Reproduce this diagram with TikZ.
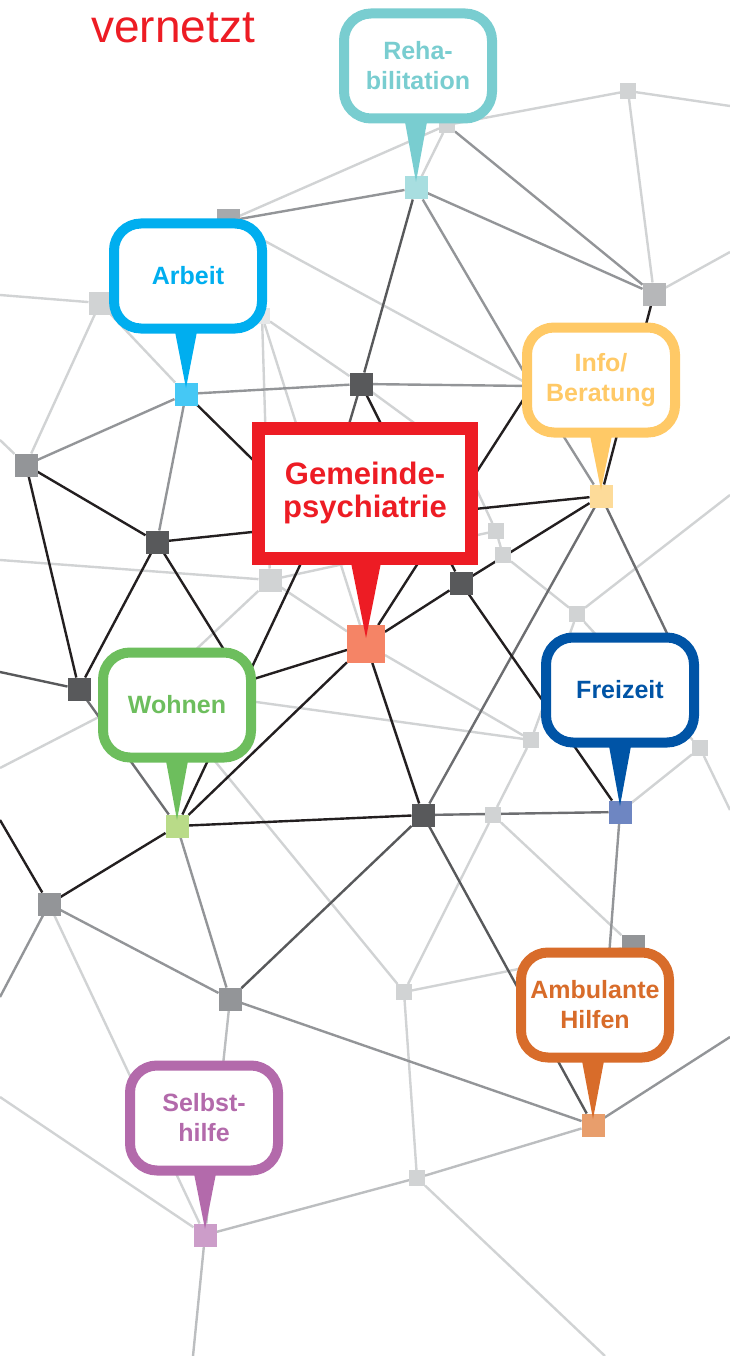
\documentclass[tikz,border=0pt]{standalone}
\usepackage{fontspec}
\setmainfont{Liberation Sans}
\usetikzlibrary{positioning,backgrounds}

% line colours
\definecolor{lnblack}{HTML}{231F20}
\definecolor{lndark}{HTML}{58595B}
\definecolor{lndm}{HTML}{6D6E71}
\definecolor{lnmid}{HTML}{939598}
\definecolor{lnsoft}{HTML}{BCBEC0}
\definecolor{lnlight}{HTML}{D1D3D4}
% square colours
\definecolor{sqdark}{HTML}{58595B}
\definecolor{sqgrey}{HTML}{939598}
\definecolor{sqmid}{HTML}{A7A9AC}
\definecolor{sqsilver}{HTML}{B6B7B9}
\definecolor{sqlight}{HTML}{D1D3D4}
\definecolor{sqpale}{HTML}{E6E7E8}
% bubble colours
\definecolor{vred}{HTML}{ED1C24}
\definecolor{rehacol}{HTML}{79CDD0}
\definecolor{rehasq}{HTML}{A8DEE0}
\definecolor{arbcol}{HTML}{00AEEF}
\definecolor{arbsq}{HTML}{45C8F5}
\definecolor{infocol}{HTML}{FFC966}
\definecolor{infosq}{HTML}{FDDB99}
\definecolor{gemsq}{HTML}{F58466}
\definecolor{wohcol}{HTML}{6DBE5D}
\definecolor{wohsq}{HTML}{B9DB88}
\definecolor{freicol}{HTML}{0054A6}
\definecolor{freisq}{HTML}{6E86C2}
\definecolor{ambcol}{HTML}{D86C2A}
\definecolor{ambsq}{HTML}{E89E6C}
\definecolor{selcol}{HTML}{B36AAB}
\definecolor{selsq}{HTML}{CC9DC9}

% pointer from a bubble down to its square
\newcommand\pointto[4]{%
  \coordinate (#1b) at (#2 |- #1.south);
  \fill[#3] ([xshift=-#4,yshift=7pt]#1b) -- ([xshift=#4,yshift=7pt]#1b) -- ([yshift=6pt]#2.center) -- cycle;}

\begin{document}
\begin{tikzpicture}[x=1pt, y=-1pt,
  sq/.style={fill=#1, minimum size=23pt, inner sep=0pt, outer sep=0pt},
  lsq/.style={fill=#1, minimum size=16pt, inner sep=0pt, outer sep=0pt},
  ebk/.style={line width=2.4pt, draw=lnblack},
  edk/.style={line width=2.4pt, draw=lndark},
  edm/.style={line width=2.4pt, draw=lndm},
  emd/.style={line width=2.4pt, draw=lnmid},
  els/.style={line width=2.4pt, draw=lnsoft},
  elt/.style={line width=2.4pt, draw=lnlight},
  bubble/.style={draw=#1, text=#1, fill=white, line width=10pt, rounded corners=27pt,
    minimum width=148pt, minimum height=105pt, inner sep=1pt, align=center,
    font=\bfseries\fontsize{25}{30}\selectfont}]
\useasboundingbox (0,0) rectangle (730,1356);

%title
\node[text=vred, font=\fontsize{46}{50}\selectfont, anchor=base west, inner sep=0pt] (title) at (91,43) {vernetzt};

%squares of the network
\node[sq=rehasq] (reh) at (416,188) {};
\node[lsq=sqlight] (n1) at (447,125) {};
\node[lsq=sqlight] (n2) at (628,91) {};
\node[sq=sqsilver] (n3) at (654,294) {};
\node[sq=sqmid] (n4) at (228,221) {};
\node[sq=sqlight] (n5) at (100,303) {};
\node[sq=arbsq] (arb) at (186,394) {};
\node[sq=sqdark] (n6) at (361,384) {};
\node[lsq=sqpale] (h1) at (262,316) {};
\node[sq=sqgrey] (n7) at (26,465) {};
\node[sq=sqdark] (n8) at (157,542) {};
\node[sq=sqlight] (n9) at (270,580) {};
\node[lsq=sqlight] (n10) at (496,531) {};
\node[lsq=sqlight] (n11) at (503,555) {};
\node[sq=sqdark] (n12) at (461,583) {};
\node[lsq=sqlight] (n13) at (577,614) {};
\node[sq=infosq] (info) at (601,496) {};
\node[sq=gemsq, minimum size=38pt] (gem) at (366,644) {};
\node[sq=sqdark] (n14) at (79,689) {};
\node[lsq=sqlight] (n15) at (531,740) {};
\node[lsq=sqlight] (n16) at (700,748) {};
\node[sq=freisq] (frei) at (620,812) {};
\node[sq=sqdark] (n17) at (423,815) {};
\node[lsq=sqlight] (n18) at (493,815) {};
\node[sq=wohsq] (woh) at (177,826) {};
\node[sq=sqgrey] (n19) at (49,904) {};
\node[sq=sqgrey] (n20) at (633,946) {};
\node[lsq=sqlight] (n21) at (404,992) {};
\node[sq=sqgrey] (n22) at (230,999) {};
\node[sq=ambsq] (amb) at (593,1125) {};
\node[lsq=sqlight] (n23) at (417,1178) {};
\node[sq=selsq] (sel) at (205,1235) {};

%hidden crossings under the bubbles
\coordinate (hx) at (532,386);
\coordinate (hb) at (319,525);
\coordinate (hg) at (462,458);
\coordinate (hy) at (244,682);
\coordinate (hw) at (155,688);
\coordinate (hf) at (676,652);
\coordinate (ha) at (603,1035);

%loose ends at the page border
\coordinate (o1) at (730,106);
\coordinate (o2) at (730,252);
\coordinate (o3) at (0,295);
\coordinate (o4) at (0,440);
\coordinate (o5) at (0,560);
\coordinate (o6) at (0,672);
\coordinate (o7) at (0,768);
\coordinate (o8) at (0,820);
\coordinate (o9) at (0,997);
\coordinate (o10) at (730,495);
\coordinate (o11) at (730,810);
\coordinate (o12) at (730,1037);
\coordinate (o13) at (0,1097);
\coordinate (o14) at (193,1356);
\coordinate (o15) at (605,1356);

%connectors
\begin{scope}[on background layer]
\foreach \a/\b in {n2/o1, n2/n3, n3/o2, reh/n1, n1/n4, n1/n2, n4/hx, n5/o3, n5/n7, n5/arb,
  n7/o4, h1/n9, h1/gem, h1/n6, n6/hg, hg/n10, n10/n11, n11/n13, n13/o10, n13/n16, n13/n15,
  n9/o5, n9/n10, n9/gem, n9/hw, hw/o7, hw/n15, hw/n21, gem/n15, n15/n18, n18/n21, n18/n20,
  n21/n20, n21/n23, n16/frei, n16/o11, n19/sel, n23/o15, sel/o13}
  \draw[elt] (\a) -- (\b);
\foreach \a/\b in {n22/sel, n23/sel, n23/amb, sel/o14}
  \draw[els] (\a) -- (\b);
\foreach \a/\b in {n4/reh, reh/n3, n1/n3, reh/hx, n6/hx, arb/n6, arb/n7, arb/n8, info/hx,
  woh/n22, n19/n22, n22/amb, n19/o9, frei/ha, amb/o12}
  \draw[emd] (\a) -- (\b);
\foreach \a/\b in {info/n17, n17/frei, info/hf, n14/woh}
  \draw[edm] (\a) -- (\b);
\foreach \a/\b in {reh/n6, n6/hb, n17/n22, n17/amb, n14/o6}
  \draw[edk] (\a) -- (\b);
\foreach \a/\b in {info/n3, info/hb, info/n12, hx/gem, n6/n12, arb/hb, n8/hb, hb/woh, n8/n7,
  n7/n14, n8/n14, n8/hy, gem/hy, gem/woh, gem/n17, gem/n12, n12/frei, woh/n17, n19/woh, n19/o8}
  \draw[ebk] (\a) -- (\b);
\end{scope}

%bubbles
\node[bubble=rehacol] (reha) at (418,66) {Reha-\\bilitation};
\node[bubble=arbcol] (arbeit) at (188,276) {Arbeit};
\node[bubble=infocol] (beratung) at (601,380) {Info/\\Beratung};
\node[bubble=wohcol] (wohnen) at (177,705) {Wohnen};
\node[bubble=freicol] (freizeit) at (620,690) {Freizeit};
\node[bubble=ambcol] (hilfen) at (595,1005) {Ambulante\\Hilfen};
\node[bubble=selcol] (selbst) at (204,1118) {Selbst-\\hilfe};
\node[draw=vred, text=vred, fill=white, line width=13pt, minimum width=213pt, minimum height=130pt,
  align=center, inner sep=1pt, font=\fontsize{31}{33}\selectfont\bfseries] (gemeinde) at (365,493) {Gemeinde-\\psychiatrie};

%pointers
\pointto{reha}{reh}{rehacol}{12pt}
\pointto{arbeit}{arb}{arbcol}{12pt}
\pointto{beratung}{info}{infocol}{12pt}
\pointto{wohnen}{woh}{wohcol}{12pt}
\pointto{freizeit}{frei}{freicol}{12pt}
\pointto{hilfen}{amb}{ambcol}{12pt}
\pointto{selbst}{sel}{selcol}{12pt}
\pointto{gemeinde}{gem}{vred}{16pt}

\end{tikzpicture}
\end{document}
